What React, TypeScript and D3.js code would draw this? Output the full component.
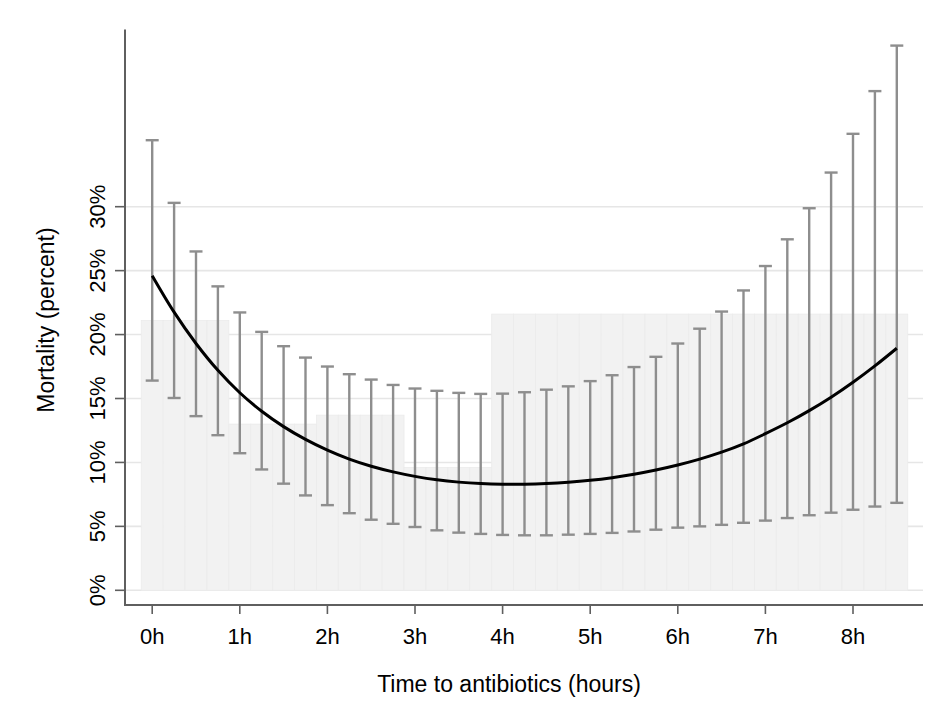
import React from "react";
import * as d3 from "d3";

const timePoints = [0, 0.25, 0.5, 0.75, 1, 1.25, 1.5, 1.75, 2, 2.25, 2.5, 2.75, 3, 3.25, 3.5, 3.75, 4, 4.25, 4.5, 4.75, 5, 5.25, 5.5, 5.75, 6, 6.25, 6.5, 6.75, 7, 7.25, 7.5, 7.75, 8, 8.25, 8.5];
const predicted = [24.6, 21.75, 19.3, 17.2, 15.45, 14.0, 12.8, 11.8, 10.96, 10.26, 9.7, 9.26, 8.91, 8.64, 8.46, 8.35, 8.3, 8.3, 8.35, 8.45, 8.6, 8.81, 9.08, 9.41, 9.8, 10.26, 10.8, 11.45, 12.25, 13.1, 14.05, 15.1, 16.27, 17.55, 18.93];
const lower = [16.4, 15.04, 13.62, 12.13, 10.72, 9.45, 8.34, 7.42, 6.66, 6.03, 5.52, 5.2, 4.95, 4.69, 4.51, 4.41, 4.33, 4.3, 4.3, 4.35, 4.41, 4.49, 4.6, 4.74, 4.9, 5.0, 5.12, 5.28, 5.45, 5.65, 5.87, 6.07, 6.3, 6.55, 6.84];
const upper = [35.2, 30.3, 26.5, 23.77, 21.73, 20.21, 19.09, 18.2, 17.5, 16.9, 16.48, 16.06, 15.78, 15.6, 15.44, 15.36, 15.38, 15.49, 15.69, 15.95, 16.36, 16.82, 17.46, 18.26, 19.3, 20.46, 21.8, 23.45, 25.36, 27.45, 29.88, 32.67, 35.7, 39.04, 42.6];
const observed = [21.1, 21.1, 21.1, 21.1, 13.0, 13.0, 13.0, 13.0, 13.7, 13.7, 13.7, 13.7, 9.6, 9.6, 9.6, 9.6, 21.6, 21.6, 21.6, 21.6, 21.6, 21.6, 21.6, 21.6, 21.6, 21.6, 21.6, 21.6, 21.6, 21.6, 21.6, 21.6, 21.6, 21.6, 21.6];
const xTicks = [0, 1, 2, 3, 4, 5, 6, 7, 8];
const xTickLabels = ["0h", "1h", "2h", "3h", "4h", "5h", "6h", "7h", "8h"];
const yTicks = [0, 5, 10, 15, 20, 25, 30];
const yTickLabels = ["0%", "5%", "10%", "15%", "20%", "25%", "30%"];
const xTitle = "Time to antibiotics (hours)";
const yTitle = "Mortality (percent)";

const W = 945;
const H = 723;
const FONT = "'Liberation Sans', Arial, sans-serif";

export default function App() {
  const x = d3.scaleLinear().domain([0, 8]).range([152.2, 853]);
  const y = d3.scaleLinear().domain([0, 30]).range([590.3, 206.7]);
  const axisLeft = 125;
  const axisRight = 923;
  const axisBottom = 605;
  const axisTop = 29.5;
  const binW = x(0.25) - x(0);

  const line = d3
    .line<number>()
    .x((_, i) => x(timePoints[i]))
    .y((d) => y(d))
    .curve(d3.curveCatmullRom);

  return (
    <svg
      width={W}
      height={H}
      style={{ position: "absolute", left: 0, top: 0, background: "#fff" }}
      fontFamily={FONT}
    >
      <rect x={0} y={0} width={W} height={H} fill="#fff" />
      {yTicks.map((t) => (
        <line key={"g" + t} x1={axisLeft} x2={axisRight} y1={y(t)} y2={y(t)} stroke="#e6e6e6" strokeWidth={1.6} />
      ))}
      {timePoints.map((t, i) => (
        <rect
          key={"b" + i}
          x={x(t) - binW / 2}
          y={y(observed[i])}
          width={binW}
          height={y(0) - y(observed[i])}
          fill="#f2f2f2"
          stroke="#ebebeb"
          strokeWidth={0.8}
        />
      ))}
      {timePoints.map((t, i) => (
        <g key={"e" + i} stroke="#8e8e8e" strokeWidth={2.4}>
          <line x1={x(t)} x2={x(t)} y1={y(upper[i])} y2={y(lower[i])} />
          <line x1={x(t) - 6.5} x2={x(t) + 6.5} y1={y(upper[i])} y2={y(upper[i])} />
          <line x1={x(t) - 6.5} x2={x(t) + 6.5} y1={y(lower[i])} y2={y(lower[i])} />
        </g>
      ))}
      <path d={line(predicted) || ""} fill="none" stroke="#000" strokeWidth={3} />
      <line x1={axisLeft} x2={axisLeft} y1={axisTop} y2={axisBottom + 1} stroke="#5f5f5f" strokeWidth={2} />
      <line x1={axisLeft - 1} x2={axisRight} y1={axisBottom} y2={axisBottom} stroke="#5f5f5f" strokeWidth={2} />
      {yTicks.map((t, i) => (
        <g key={"yt" + t}>
          <line x1={axisLeft - 10} x2={axisLeft} y1={y(t)} y2={y(t)} stroke="#5f5f5f" strokeWidth={1.6} />
          <text
            transform={`translate(105, ${y(t)}) rotate(-90)`}
            textAnchor="middle"
            fontSize={22}
            fill="#000"
          >
            {yTickLabels[i]}
          </text>
        </g>
      ))}
      {xTicks.map((t, i) => (
        <g key={"xt" + t}>
          <line x1={x(t)} x2={x(t)} y1={axisBottom} y2={axisBottom + 9} stroke="#5f5f5f" strokeWidth={1.6} />
          <text x={x(t)} y={644} textAnchor="middle" fontSize={22} fill="#000">
            {xTickLabels[i]}
          </text>
        </g>
      ))}
      <text x={509} y={692} textAnchor="middle" fontSize={23} fill="#000">
        {xTitle}
      </text>
      <text transform={`translate(54, 320) rotate(-90)`} textAnchor="middle" fontSize={23} fill="#000">
        {yTitle}
      </text>
    </svg>
  );
}
